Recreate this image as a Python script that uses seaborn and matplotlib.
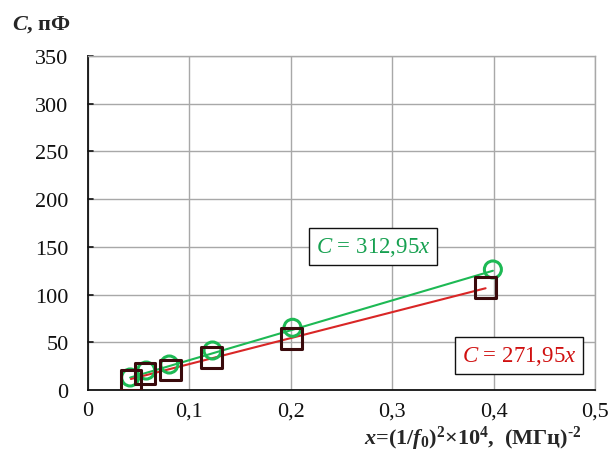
import numpy as np
import matplotlib
matplotlib.use("Agg")
import matplotlib.pyplot as plt
import seaborn as sns
import pandas as pd

# Measured capacitance vs. x = (1/f0)^2 * 1e4
x_green = [0.0416, 0.0574, 0.0802, 0.1228, 0.2017, 0.3993]
c_green = [13.1, 20.4, 26.7, 41.4, 65.2, 126.3]
x_red = [0.0423, 0.0564, 0.0812, 0.1215, 0.2007, 0.3921]
c_red = [10.3, 17.0, 20.8, 33.9, 54.0, 107.6]

slope_green = 312.95
slope_red = 271.95

x_ticks = [0, 0.1, 0.2, 0.3, 0.4, 0.5]
x_tick_labels = ["0", "0,1", "0,2", "0,3", "0,4", "0,5"]
y_ticks = [0, 50, 100, 150, 200, 250, 300, 350]
y_tick_labels = ["0", "50", "100", "150", "200", "250", "300", "350"]

sns.set_theme(style="white")
plt.rcParams["font.family"] = ["Liberation Serif", "DejaVu Serif"]
plt.rcParams["mathtext.fontset"] = "custom"
plt.rcParams["mathtext.rm"] = "Liberation Serif:bold"
plt.rcParams["mathtext.it"] = "Liberation Serif:italic:bold"
plt.rcParams["mathtext.bf"] = "Liberation Serif:bold"
# regular italic for the fit equations
plt.rcParams["mathtext.cal"] = "Liberation Serif:italic"

GREEN = "#1db954"
GREEN_TXT = "#16a050"
RED = "#d92626"
RED_TXT = "#d01010"
DARK = "#3a0a0c"

fig = plt.figure(figsize=(6.12, 4.64), dpi=100)
ax = fig.add_axes([88 / 612, 73 / 464, 507 / 612, 334 / 464])

df_g = pd.DataFrame({"x": x_green, "C": c_green})
df_r = pd.DataFrame({"x": x_red, "C": c_red})

# fitted straight lines through the origin, spanning each data range
fit_g = pd.DataFrame({"x": [min(x_green), max(x_green)]})
fit_g["C"] = slope_green * fit_g["x"]
fit_r = pd.DataFrame({"x": [min(x_red), max(x_red)]})
fit_r["C"] = slope_red * fit_r["x"]

sns.lineplot(data=fit_g, x="x", y="C", ax=ax, color=GREEN, lw=1.5, zorder=3)
sns.lineplot(data=fit_r, x="x", y="C", ax=ax, color=RED, lw=1.5, zorder=3)

sns.scatterplot(data=df_g, x="x", y="C", ax=ax, marker="o", s=150,
                facecolors="none", edgecolor=GREEN, linewidth=2.2, zorder=4)
sns.scatterplot(data=df_r, x="x", y="C", ax=ax, marker="s", s=220,
                facecolors="none", edgecolor=DARK, linewidth=2.2, zorder=5)

ax.set_xlim(0, 0.5)
ax.set_ylim(0, 350)
ax.set_xticks(x_ticks)
ax.set_xticklabels(x_tick_labels)
ax.set_yticks(y_ticks)
ax.set_yticklabels(y_tick_labels)
ax.tick_params(axis="both", labelsize=16, colors="#111111", length=0)
ax.tick_params(axis="x", pad=8)
ax.tick_params(axis="y", pad=14)
ax.grid(True, color="#a8a8a8", lw=1)
ax.set_axisbelow(True)
ax.set_xlabel("")
ax.set_ylabel("")

for side in ["left", "bottom"]:
    ax.spines[side].set_color("#111111")
    ax.spines[side].set_linewidth(1.3)
for side in ["top", "right"]:
    ax.spines[side].set_color("#a8a8a8")
    ax.spines[side].set_linewidth(1)

# small inward ticks on the left axis
for yt in y_ticks[1:]:
    ax.plot([0, 0.005], [yt, yt], color="#111111", lw=1.2, clip_on=False, zorder=2)

# fit equations
ax.text(0.281, 150, r"$\mathcal{C}$ = 312,95$\mathcal{x}$",
        fontsize=16.5, color=GREEN_TXT, ha="center", va="center", zorder=6,
        bbox=dict(boxstyle="square,pad=0.3", fc="white", ec="#111111", lw=1))
ax.text(0.425, 36, r"$\mathcal{C}$ = 271,95$\mathcal{x}$",
        fontsize=16.5, color=RED_TXT, ha="center", va="center", zorder=6,
        bbox=dict(boxstyle="square,pad=0.3", fc="white", ec="#111111", lw=1))

# axis titles
fig.text(12 / 612, 1 - 30 / 464, r"$C$, пФ", fontsize=16, fontweight="bold",
         ha="left", va="baseline")
fig.text(582 / 612, 1 - 445 / 464,
         "$x$=(1/$f_0$)$^2$×10$^4$,  (МГц)$^{\u2010 2}$",
         fontsize=16, fontweight="bold", ha="right", va="baseline")

fig.savefig("out.png", dpi=100)
